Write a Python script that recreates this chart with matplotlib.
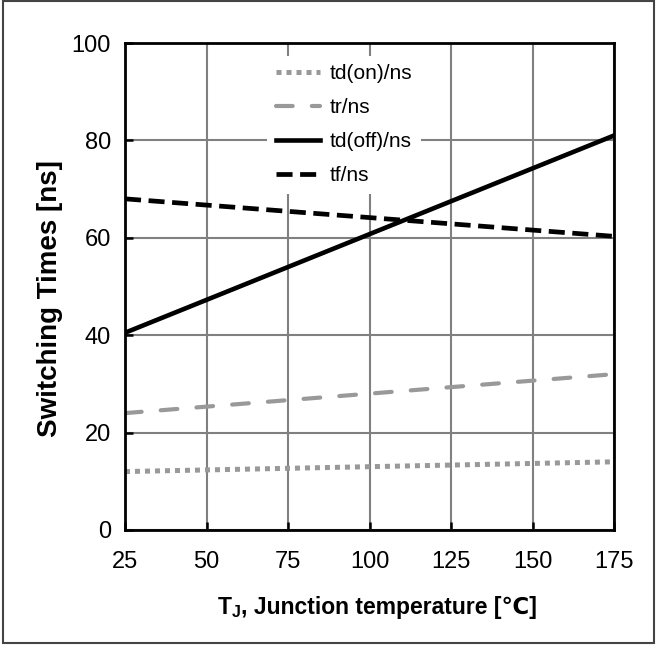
import matplotlib
matplotlib.use("Agg")
import matplotlib.pyplot as plt
from matplotlib.patches import Rectangle
from matplotlib.offsetbox import TextArea, HPacker, AnchoredOffsetbox

plt.rcParams['font.family'] = ['Liberation Sans', 'DejaVu Sans']
plt.rcParams['mathtext.fontset'] = 'custom'
plt.rcParams['mathtext.rm'] = 'Liberation Sans:bold'

temps = [25, 175]
td_on = [12, 14]
tr = [24, 32]
td_off = [40.5, 81]
tf = [68, 60.3]
series_labels = ["td(on)/ns", "tr/ns", "td(off)/ns", "tf/ns"]
xticks = [25, 50, 75, 100, 125, 150, 175]
yticks = [0, 20, 40, 60, 80, 100]

fig = plt.figure(figsize=(6.57, 6.46), dpi=100)
ax = fig.add_axes([125/657, 1 - 530/646, (614-125)/657, (530-43)/646])

gray = '#999999'
ax.plot(temps, td_on, color=gray, lw=3.6, linestyle=(0, (1.0, 1.0)), dash_capstyle='butt', label=series_labels[0])
ax.plot(temps, tr, color=gray, lw=3.0, linestyle=(0, (4.0, 4.6)), dash_capstyle='round', label=series_labels[1])
ax.plot(temps, td_off, color='black', lw=3.3, label=series_labels[2])
ax.plot(temps, tf, color='black', lw=3.4, linestyle=(0, (3.4, 1.6)), label=series_labels[3])

ax.set_xlim(25, 175)
ax.set_ylim(0, 100)
ax.set_xticks(xticks)
ax.set_yticks(yticks)
ax.grid(True, color='#808080', lw=1.5)
ax.set_axisbelow(True)
ax.tick_params(direction='in', length=6, width=1.8, colors='black', labelsize=17)
ax.tick_params(axis='x', pad=15)
ax.tick_params(axis='y', pad=10)
for s in ax.spines.values():
    s.set_linewidth(2.0)
    s.set_color('black')

ax.set_ylabel('Switching Times [ns]', fontsize=20, fontweight='bold')
ax.yaxis.set_label_coords(-0.127, 0.475)

# x label: T with subscript J (mathtext) followed by plain text with the ℃ sign
tp = dict(fontsize=16.5, fontweight='bold', color='black')
part1 = TextArea(r'T$_\mathregular{J}$', textprops=tp)
part2 = TextArea(', Junction temperature [℃]',
                 textprops=dict(tp, family=['Liberation Sans', 'DejaVu Sans']))
pack = HPacker(children=[part1, part2], align='baseline', pad=0, sep=0)
anch = AnchoredOffsetbox(loc='upper center', child=pack, pad=0, borderpad=0, frameon=False,
                         bbox_to_anchor=(377 / 657, 1 - 595/646),
                         bbox_transform=fig.transFigure)
fig.add_artist(anch)

leg = ax.legend(loc='upper left', bbox_to_anchor=(0.27, 0.995), frameon=True, fontsize=15,
                handlelength=2.1, handletextpad=0.5, labelspacing=0.72, borderpad=0.4)
leg.get_frame().set_edgecolor('none')
leg.get_frame().set_facecolor('white')
leg.get_frame().set_alpha(1)

fig.patches.append(Rectangle((0.004, 0.004), 0.992, 0.994, transform=fig.transFigure,
                             fill=False, edgecolor='#444444', lw=1.5))

fig.savefig('out.png', dpi=100)
